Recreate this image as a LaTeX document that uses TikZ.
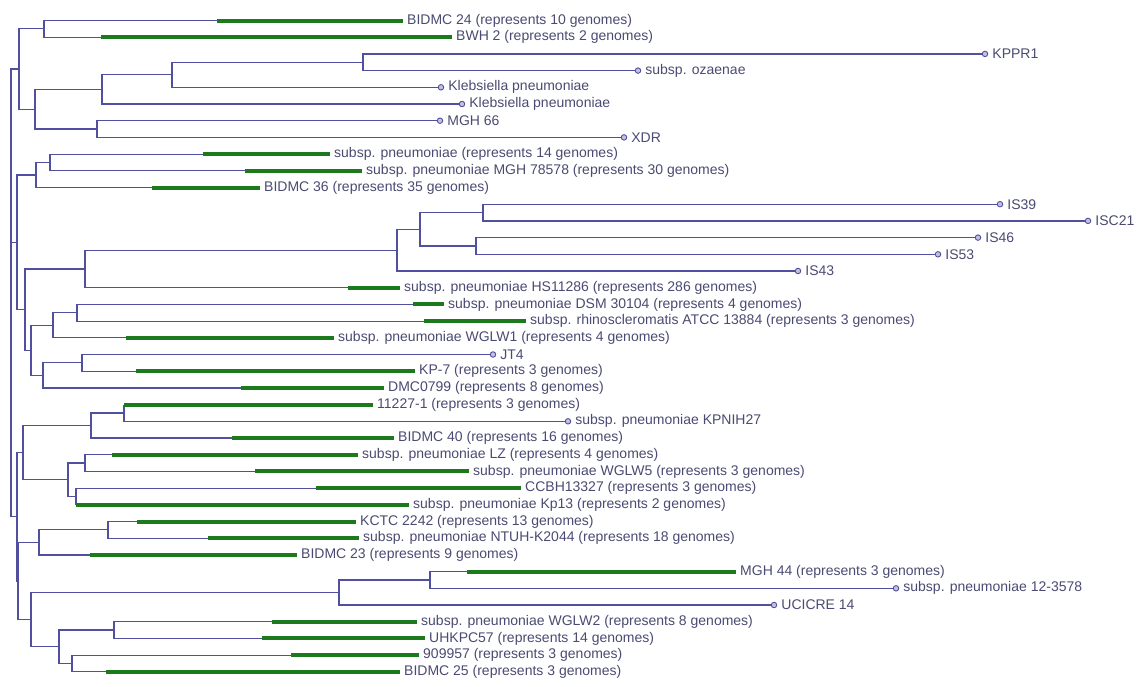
\documentclass[tikz,border=0pt]{standalone}
\usepackage{fontspec}
\setmainfont{Liberation Sans}
\usepackage{tikz}
\usepackage{xcolor}
\definecolor{treeblue}{HTML}{50509E}
\definecolor{treegreen}{HTML}{1C7A1C}
\definecolor{labelgrey}{HTML}{4A4A72}

\begin{document}
\begin{tikzpicture}[
    x=1pt,
    y=-1pt,
    font=\fontsize{14}{16}\selectfont
]

\tikzstyle{branch}=[
    draw=treeblue,
    line width=1.2pt
]
\tikzstyle{genomes}=[
    draw=treegreen,
    line width=4pt
]
\tikzstyle{tip}=[
    circle,
    draw=treeblue,
    fill=treeblue!35,
    line width=0.9pt,
    minimum size=5.5pt,
    inner sep=0pt
]
\tikzstyle{taxon}=[
    anchor=west,
    text=labelgrey,
    inner sep=0pt,
    xshift=4pt
]

\useasboundingbox (0,0) rectangle (1140,686);

% inner nodes
\coordinate (root) at (11,242.3);
\coordinate (nT) at (19,69.0);
\coordinate (nA) at (44,28.85);
\coordinate (nF) at (35,109.2);
\coordinate (nD) at (102,89.4);
\coordinate (nC) at (172,74.8);
\coordinate (nB) at (363,62.25);
\coordinate (nE) at (97,129.05);
\coordinate (nU) at (17,242.3);
\coordinate (nH) at (36,175.0);
\coordinate (nG) at (50,162.45);
\coordinate (nS) at (25,309.6);
\coordinate (nM) at (85,268.9);
\coordinate (nL) at (397,250.1);
\coordinate (nK) at (420,229.25);
\coordinate (nI) at (483,212.55);
\coordinate (nJ) at (476,245.95);
\coordinate (nR) at (31,350.35);
\coordinate (nO) at (53,325.3);
\coordinate (nN) at (77,312.75);
\coordinate (nQ) at (43,375.4);
\coordinate (nP) at (82,362.85);
\coordinate (nAK) at (17,516.8);
\coordinate (nAA) at (23,452.6);
\coordinate (nW) at (91,425.5);
\coordinate (nV) at (124,412.95);
\coordinate (nZ) at (68,479.75);
\coordinate (nX) at (85,463.05);
\coordinate (nY) at (76,496.45);
\coordinate (nAJ) at (18,581.0);
\coordinate (nAC) at (39,542.4);
\coordinate (nAB) at (108,529.85);
\coordinate (nAI) at (31,619.6);
\coordinate (nAE) at (339,592.5);
\coordinate (nAD) at (430,579.95);
\coordinate (nAH) at (59,646.75);
\coordinate (nAF) at (114,630.05);
\coordinate (nAG) at (72,663.45);

% tips
\coordinate (g1) at (217,20.5);   \coordinate (t1) at (403,20.5);
\coordinate (g2) at (101,37.2);   \coordinate (t2) at (452,37.2);
\node[tip] (t3) at (985,53.9) {};
\node[tip] (t4) at (638,70.6) {};
\node[tip] (t5) at (441,87.3) {};
\node[tip] (t6) at (462,104.0) {};
\node[tip] (t7) at (440,120.7) {};
\node[tip] (t8) at (624,137.4) {};
\coordinate (g9) at (203,154.1);  \coordinate (t9) at (330,154.1);
\coordinate (g10) at (245,170.8); \coordinate (t10) at (362,170.8);
\coordinate (g11) at (152,187.5); \coordinate (t11) at (260,187.5);
\node[tip] (t12) at (1000,204.2) {};
\node[tip] (t13) at (1088,220.9) {};
\node[tip] (t14) at (978,237.6) {};
\node[tip] (t15) at (938,254.3) {};
\node[tip] (t16) at (798,271.0) {};
\coordinate (g17) at (348,287.7); \coordinate (t17) at (400,287.7);
\coordinate (g18) at (413,304.4); \coordinate (t18) at (444,304.4);
\coordinate (g19) at (424,321.1); \coordinate (t19) at (526,321.1);
\coordinate (g20) at (126,337.8); \coordinate (t20) at (334,337.8);
\node[tip] (t21) at (493,354.5) {};
\coordinate (g22) at (136,371.2); \coordinate (t22) at (415,371.2);
\coordinate (g23) at (241,387.9); \coordinate (t23) at (384,387.9);
\coordinate (g24) at (124,404.6); \coordinate (t24) at (373,404.6);
\node[tip] (t25) at (568,421.3) {};
\coordinate (g26) at (232,438.0); \coordinate (t26) at (394,438.0);
\coordinate (g27) at (112,454.7); \coordinate (t27) at (358,454.7);
\coordinate (g28) at (255,471.4); \coordinate (t28) at (469,471.4);
\coordinate (g29) at (316,488.1); \coordinate (t29) at (521,488.1);
\coordinate (g30) at (76,504.8);  \coordinate (t30) at (409,504.8);
\coordinate (g31) at (137,521.5); \coordinate (t31) at (356,521.5);
\coordinate (g32) at (208,538.2); \coordinate (t32) at (359,538.2);
\coordinate (g33) at (90,554.9);  \coordinate (t33) at (297,554.9);
\coordinate (g34) at (467,571.6); \coordinate (t34) at (736,571.6);
\node[tip] (t35) at (896,588.3) {};
\node[tip] (t36) at (774,605.0) {};
\coordinate (g37) at (272,621.7); \coordinate (t37) at (417,621.7);
\coordinate (g38) at (262,638.4); \coordinate (t38) at (425,638.4);
\coordinate (g39) at (291,655.1); \coordinate (t39) at (419,655.1);
\coordinate (g40) at (106,671.8); \coordinate (t40) at (400,671.8);

% branches
\draw[branch] (root) |- (nT) (root) |- (nU) (root) |- (nAK);
\draw[branch] (nT) |- (nA) (nT) |- (nF);
\draw[branch] (nA) |- (g1) (nA) |- (g2);
\draw[branch] (nF) |- (nD) (nF) |- (nE);
\draw[branch] (nD) |- (nC) (nD) |- (t6);
\draw[branch] (nC) |- (nB) (nC) |- (t5);
\draw[branch] (nB) |- (t3) (nB) |- (t4);
\draw[branch] (nE) |- (t7) (nE) |- (t8);
\draw[branch] (nU) |- (nH) (nU) |- (nS);
\draw[branch] (nH) |- (nG) (nH) |- (g11);
\draw[branch] (nG) |- (g9) (nG) |- (g10);
\draw[branch] (nS) |- (nM) (nS) |- (nR);
\draw[branch] (nM) |- (nL) (nM) |- (g17);
\draw[branch] (nL) |- (nK) (nL) |- (t16);
\draw[branch] (nK) |- (nI) (nK) |- (nJ);
\draw[branch] (nI) |- (t12) (nI) |- (t13);
\draw[branch] (nJ) |- (t14) (nJ) |- (t15);
\draw[branch] (nR) |- (nO) (nR) |- (nQ);
\draw[branch] (nO) |- (nN) (nO) |- (g20);
\draw[branch] (nN) |- (g18) (nN) |- (g19);
\draw[branch] (nQ) |- (nP) (nQ) |- (g23);
\draw[branch] (nP) |- (t21) (nP) |- (g22);
\draw[branch] (nAK) |- (nAA) (nAK) |- (nAJ);
\draw[branch] (nAA) |- (nW) (nAA) |- (nZ);
\draw[branch] (nW) |- (nV) (nW) |- (g26);
\draw[branch] (nV) |- (g24) (nV) |- (t25);
\draw[branch] (nZ) |- (nX) (nZ) |- (nY);
\draw[branch] (nX) |- (g27) (nX) |- (g28);
\draw[branch] (nY) |- (g29) (nY) |- (g30);
\draw[branch] (nAJ) |- (nAC) (nAJ) |- (nAI);
\draw[branch] (nAC) |- (nAB) (nAC) |- (g33);
\draw[branch] (nAB) |- (g31) (nAB) |- (g32);
\draw[branch] (nAI) |- (nAE) (nAI) |- (nAH);
\draw[branch] (nAE) |- (nAD) (nAE) |- (t36);
\draw[branch] (nAD) |- (g34) (nAD) |- (t35);
\draw[branch] (nAH) |- (nAF) (nAH) |- (nAG);
\draw[branch] (nAF) |- (g37) (nAF) |- (g38);
\draw[branch] (nAG) |- (g39) (nAG) |- (g40);

% represented genomes
\draw[genomes] (g1) -- (t1);
\draw[genomes] (g2) -- (t2);
\draw[genomes] (g9) -- (t9);
\draw[genomes] (g10) -- (t10);
\draw[genomes] (g11) -- (t11);
\draw[genomes] (g17) -- (t17);
\draw[genomes] (g18) -- (t18);
\draw[genomes] (g19) -- (t19);
\draw[genomes] (g20) -- (t20);
\draw[genomes] (g22) -- (t22);
\draw[genomes] (g23) -- (t23);
\draw[genomes] (g24) -- (t24);
\draw[genomes] (g26) -- (t26);
\draw[genomes] (g27) -- (t27);
\draw[genomes] (g28) -- (t28);
\draw[genomes] (g29) -- (t29);
\draw[genomes] (g30) -- (t30);
\draw[genomes] (g31) -- (t31);
\draw[genomes] (g32) -- (t32);
\draw[genomes] (g33) -- (t33);
\draw[genomes] (g34) -- (t34);
\draw[genomes] (g37) -- (t37);
\draw[genomes] (g38) -- (t38);
\draw[genomes] (g39) -- (t39);
\draw[genomes] (g40) -- (t40);

% labels
\node[taxon] (l1) at (t1) {BIDMC 24 (represents 10 genomes)};
\node[taxon] (l2) at (t2) {BWH 2 (represents 2 genomes)};
\node[taxon] (l3) at (t3.east) {KPPR1};
\node[taxon] (l4) at (t4.east) {subsp. ozaenae};
\node[taxon] (l5) at (t5.east) {Klebsiella pneumoniae};
\node[taxon] (l6) at (t6.east) {Klebsiella pneumoniae};
\node[taxon] (l7) at (t7.east) {MGH 66};
\node[taxon] (l8) at (t8.east) {XDR};
\node[taxon] (l9) at (t9) {subsp. pneumoniae (represents 14 genomes)};
\node[taxon] (l10) at (t10) {subsp. pneumoniae MGH 78578 (represents 30 genomes)};
\node[taxon] (l11) at (t11) {BIDMC 36 (represents 35 genomes)};
\node[taxon] (l12) at (t12.east) {IS39};
\node[taxon] (l13) at (t13.east) {ISC21};
\node[taxon] (l14) at (t14.east) {IS46};
\node[taxon] (l15) at (t15.east) {IS53};
\node[taxon] (l16) at (t16.east) {IS43};
\node[taxon] (l17) at (t17) {subsp. pneumoniae HS11286 (represents 286 genomes)};
\node[taxon] (l18) at (t18) {subsp. pneumoniae DSM 30104 (represents 4 genomes)};
\node[taxon] (l19) at (t19) {subsp. rhinoscleromatis ATCC 13884 (represents 3 genomes)};
\node[taxon] (l20) at (t20) {subsp. pneumoniae WGLW1 (represents 4 genomes)};
\node[taxon] (l21) at (t21.east) {JT4};
\node[taxon] (l22) at (t22) {KP-7 (represents 3 genomes)};
\node[taxon] (l23) at (t23) {DMC0799 (represents 8 genomes)};
\node[taxon] (l24) at (t24) {11227-1 (represents 3 genomes)};
\node[taxon] (l25) at (t25.east) {subsp. pneumoniae KPNIH27};
\node[taxon] (l26) at (t26) {BIDMC 40 (represents 16 genomes)};
\node[taxon] (l27) at (t27) {subsp. pneumoniae LZ (represents 4 genomes)};
\node[taxon] (l28) at (t28) {subsp. pneumoniae WGLW5 (represents 3 genomes)};
\node[taxon] (l29) at (t29) {CCBH13327 (represents 3 genomes)};
\node[taxon] (l30) at (t30) {subsp. pneumoniae Kp13 (represents 2 genomes)};
\node[taxon] (l31) at (t31) {KCTC 2242 (represents 13 genomes)};
\node[taxon] (l32) at (t32) {subsp. pneumoniae NTUH-K2044 (represents 18 genomes)};
\node[taxon] (l33) at (t33) {BIDMC 23 (represents 9 genomes)};
\node[taxon] (l34) at (t34) {MGH 44 (represents 3 genomes)};
\node[taxon] (l35) at (t35.east) {subsp. pneumoniae 12-3578};
\node[taxon] (l36) at (t36.east) {UCICRE 14};
\node[taxon] (l37) at (t37) {subsp. pneumoniae WGLW2 (represents 8 genomes)};
\node[taxon] (l38) at (t38) {UHKPC57 (represents 14 genomes)};
\node[taxon] (l39) at (t39) {909957 (represents 3 genomes)};
\node[taxon] (l40) at (t40) {BIDMC 25 (represents 3 genomes)};

\end{tikzpicture}
\end{document}
